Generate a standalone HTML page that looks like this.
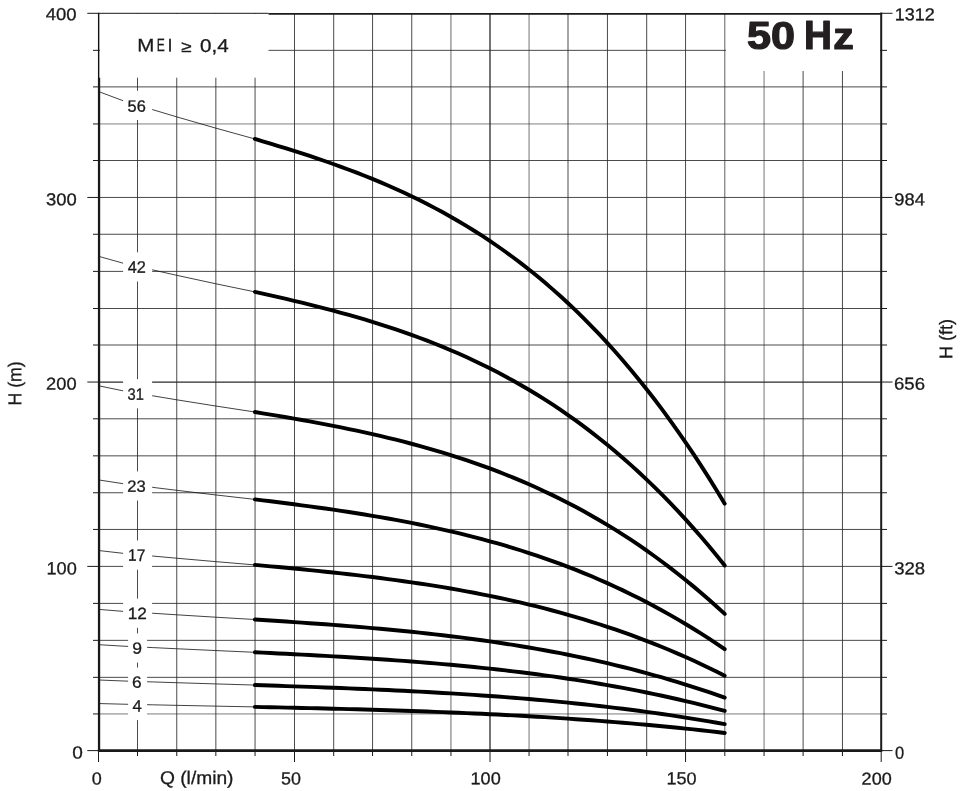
<!DOCTYPE html>
<html><head><meta charset="utf-8"><title>50 Hz</title>
<style>html,body{margin:0;padding:0;background:#fff}body{width:961px;height:791px;overflow:hidden}</style>
</head><body>
<svg width="961" height="791" viewBox="0 0 961 791" style="display:block">
<rect width="961" height="791" fill="#fff"/>
<g fill="none">
<line x1="137.5" y1="13.3" x2="137.5" y2="750.6" stroke="#2a2a2a" stroke-width="0.85"/>
<line x1="176.75" y1="13.3" x2="176.75" y2="750.6" stroke="#2a2a2a" stroke-width="0.85"/>
<line x1="215.85" y1="13.3" x2="215.85" y2="750.6" stroke="#2a2a2a" stroke-width="0.85"/>
<line x1="255.05" y1="13.3" x2="255.05" y2="750.6" stroke="#2a2a2a" stroke-width="0.85"/>
<line x1="294.5" y1="13.3" x2="294.5" y2="750.6" stroke="#2a2a2a" stroke-width="0.85"/>
<line x1="333.7" y1="13.3" x2="333.7" y2="750.6" stroke="#2a2a2a" stroke-width="0.85"/>
<line x1="372.55" y1="13.3" x2="372.55" y2="750.6" stroke="#2a2a2a" stroke-width="0.85"/>
<line x1="411.75" y1="13.3" x2="411.75" y2="750.6" stroke="#2a2a2a" stroke-width="0.85"/>
<line x1="450.95" y1="13.3" x2="450.95" y2="750.6" stroke="#2a2a2a" stroke-width="0.7"/>
<line x1="490.0" y1="13.3" x2="490.0" y2="750.6" stroke="#2a2a2a" stroke-width="1.3"/>
<line x1="529.05" y1="13.3" x2="529.05" y2="750.6" stroke="#2a2a2a" stroke-width="0.65"/>
<line x1="568.0" y1="13.3" x2="568.0" y2="750.6" stroke="#2a2a2a" stroke-width="0.85"/>
<line x1="607.45" y1="13.3" x2="607.45" y2="750.6" stroke="#2a2a2a" stroke-width="0.85"/>
<line x1="646.7" y1="13.3" x2="646.7" y2="750.6" stroke="#2a2a2a" stroke-width="0.85"/>
<line x1="685.55" y1="13.3" x2="685.55" y2="750.6" stroke="#2a2a2a" stroke-width="0.85"/>
<line x1="724.8" y1="13.3" x2="724.8" y2="750.6" stroke="#2a2a2a" stroke-width="0.75"/>
<line x1="764.05" y1="13.3" x2="764.05" y2="750.6" stroke="#2a2a2a" stroke-width="0.65"/>
<line x1="803.1" y1="13.3" x2="803.1" y2="750.6" stroke="#2a2a2a" stroke-width="0.85"/>
<line x1="842.45" y1="13.3" x2="842.45" y2="750.6" stroke="#2a2a2a" stroke-width="0.85"/>
<line x1="99.05" y1="50.35" x2="881.2" y2="50.35" stroke="#2a2a2a" stroke-width="0.85"/>
<line x1="99.05" y1="86.9" x2="881.2" y2="86.9" stroke="#2a2a2a" stroke-width="0.85"/>
<line x1="99.05" y1="123.95" x2="881.2" y2="123.95" stroke="#2a2a2a" stroke-width="0.6"/>
<line x1="99.05" y1="160.5" x2="881.2" y2="160.5" stroke="#2a2a2a" stroke-width="0.85"/>
<line x1="99.05" y1="197.45" x2="881.2" y2="197.45" stroke="#2a2a2a" stroke-width="0.85"/>
<line x1="99.05" y1="234.25" x2="881.2" y2="234.25" stroke="#2a2a2a" stroke-width="0.85"/>
<line x1="99.05" y1="271.4" x2="881.2" y2="271.4" stroke="#2a2a2a" stroke-width="0.85"/>
<line x1="99.05" y1="308.5" x2="881.2" y2="308.5" stroke="#2a2a2a" stroke-width="0.85"/>
<line x1="99.05" y1="345.0" x2="881.2" y2="345.0" stroke="#2a2a2a" stroke-width="0.85"/>
<line x1="99.05" y1="382.05" x2="881.2" y2="382.05" stroke="#2a2a2a" stroke-width="1.3"/>
<line x1="99.05" y1="418.8" x2="881.2" y2="418.8" stroke="#2a2a2a" stroke-width="0.85"/>
<line x1="99.05" y1="455.85" x2="881.2" y2="455.85" stroke="#2a2a2a" stroke-width="0.85"/>
<line x1="99.05" y1="492.75" x2="881.2" y2="492.75" stroke="#2a2a2a" stroke-width="0.85"/>
<line x1="99.05" y1="529.45" x2="881.2" y2="529.45" stroke="#2a2a2a" stroke-width="0.85"/>
<line x1="99.05" y1="566.4" x2="881.2" y2="566.4" stroke="#2a2a2a" stroke-width="0.85"/>
<line x1="99.05" y1="603.4" x2="881.2" y2="603.4" stroke="#2a2a2a" stroke-width="0.85"/>
<line x1="99.05" y1="640.35" x2="881.2" y2="640.35" stroke="#2a2a2a" stroke-width="0.85"/>
<line x1="99.05" y1="677.35" x2="881.2" y2="677.35" stroke="#2a2a2a" stroke-width="0.85"/>
<line x1="99.05" y1="713.95" x2="881.2" y2="713.95" stroke="#2a2a2a" stroke-width="0.62"/>
</g>
<rect x="100" y="14" width="168.5" height="63.7" fill="#fff"/>
<rect x="726" y="14" width="154" height="57" fill="#fff"/>
<g stroke="#111" stroke-width="0.8" fill="none">
<polyline points="99.40,91.83 122.96,100.68 152.21,109.52 176.48,116.80 215.75,128.14 254.90,138.96"/>
<polyline points="99.40,256.53 122.96,263.16 152.21,269.79 176.48,275.25 215.75,283.75 254.90,291.87"/>
<polyline points="99.40,385.93 122.96,390.82 152.21,395.72 176.48,399.75 215.75,406.02 254.90,412.01"/>
<polyline points="99.40,480.04 122.96,483.67 152.21,487.30 176.48,490.29 215.75,494.95 254.90,499.39"/>
<polyline points="99.40,550.62 122.96,553.30 152.21,555.99 176.48,558.20 215.75,561.64 254.90,564.92"/>
<polyline points="99.40,609.44 122.96,611.33 152.21,613.23 176.48,614.79 215.75,617.21 254.90,619.53"/>
<polyline points="99.40,644.73 122.96,646.15 152.21,647.57 176.48,648.74 215.75,650.56 254.90,652.30"/>
<polyline points="99.40,680.02 122.96,680.97 152.21,681.91 176.48,682.69 215.75,683.91 254.90,685.07"/>
<polyline points="99.40,703.55 122.96,704.18 152.21,704.81 176.48,705.33 215.75,706.14 254.90,706.91"/>
</g>
<rect x="123.1" y="90.80" width="29" height="29.2" fill="#fff"/>
<rect x="123.1" y="252.30" width="29" height="29.2" fill="#fff"/>
<rect x="123.1" y="379.15" width="29" height="29.2" fill="#fff"/>
<rect x="123.1" y="471.40" width="29" height="29.2" fill="#fff"/>
<rect x="123.1" y="540.50" width="29" height="29.2" fill="#fff"/>
<rect x="123.1" y="598.60" width="29" height="29.2" fill="#fff"/>
<rect x="128.1" y="633.40" width="19" height="29.2" fill="#fff"/>
<rect x="128.1" y="667.50" width="19" height="29.2" fill="#fff"/>
<rect x="128.1" y="690.90" width="19" height="29.2" fill="#fff"/>
<g stroke="#1a1a1a" fill="none">
<line x1="87.3" y1="13.3" x2="268.5" y2="13.3" stroke-width="1"/>
<line x1="268.5" y1="13.85" x2="881.2" y2="13.85" stroke-width="1.7"/>
<line x1="881.2" y1="13.3" x2="892.5" y2="13.3" stroke-width="1"/>
<line x1="98.65" y1="12.8" x2="98.65" y2="78" stroke-width="1.4" stroke="#111"/>
<line x1="99.05" y1="77.7" x2="99.05" y2="751.9" stroke-width="2.3"/>
<line x1="881.2" y1="12.600000000000001" x2="881.2" y2="751.8000000000001" stroke-width="2"/>
<line x1="97.95" y1="750.6" x2="882.1" y2="750.6" stroke-width="2.6"/>
<line x1="87.3" y1="750.6" x2="99.05" y2="750.6" stroke-width="1"/>
<line x1="881.2" y1="750.6" x2="892.5" y2="750.6" stroke-width="1"/>
<line x1="93" y1="713.95" x2="99.05" y2="713.95" stroke-width="1"/>
<line x1="881.2" y1="713.95" x2="887" y2="713.95" stroke-width="1"/>
<line x1="93" y1="677.35" x2="99.05" y2="677.35" stroke-width="1"/>
<line x1="881.2" y1="677.35" x2="887" y2="677.35" stroke-width="1"/>
<line x1="93" y1="640.35" x2="99.05" y2="640.35" stroke-width="1"/>
<line x1="881.2" y1="640.35" x2="887" y2="640.35" stroke-width="1"/>
<line x1="93" y1="603.4" x2="99.05" y2="603.4" stroke-width="1"/>
<line x1="881.2" y1="603.4" x2="887" y2="603.4" stroke-width="1"/>
<line x1="87.3" y1="566.4" x2="99.05" y2="566.4" stroke-width="1"/>
<line x1="881.2" y1="566.4" x2="892.5" y2="566.4" stroke-width="1"/>
<line x1="93" y1="529.45" x2="99.05" y2="529.45" stroke-width="1"/>
<line x1="881.2" y1="529.45" x2="887" y2="529.45" stroke-width="1"/>
<line x1="93" y1="492.75" x2="99.05" y2="492.75" stroke-width="1"/>
<line x1="881.2" y1="492.75" x2="887" y2="492.75" stroke-width="1"/>
<line x1="93" y1="455.85" x2="99.05" y2="455.85" stroke-width="1"/>
<line x1="881.2" y1="455.85" x2="887" y2="455.85" stroke-width="1"/>
<line x1="93" y1="418.8" x2="99.05" y2="418.8" stroke-width="1"/>
<line x1="881.2" y1="418.8" x2="887" y2="418.8" stroke-width="1"/>
<line x1="87.3" y1="382.05" x2="99.05" y2="382.05" stroke-width="1"/>
<line x1="881.2" y1="382.05" x2="892.5" y2="382.05" stroke-width="1"/>
<line x1="93" y1="345.0" x2="99.05" y2="345.0" stroke-width="1"/>
<line x1="881.2" y1="345.0" x2="887" y2="345.0" stroke-width="1"/>
<line x1="93" y1="308.5" x2="99.05" y2="308.5" stroke-width="1"/>
<line x1="881.2" y1="308.5" x2="887" y2="308.5" stroke-width="1"/>
<line x1="93" y1="271.4" x2="99.05" y2="271.4" stroke-width="1"/>
<line x1="881.2" y1="271.4" x2="887" y2="271.4" stroke-width="1"/>
<line x1="93" y1="234.25" x2="99.05" y2="234.25" stroke-width="1"/>
<line x1="881.2" y1="234.25" x2="887" y2="234.25" stroke-width="1"/>
<line x1="87.3" y1="197.45" x2="99.05" y2="197.45" stroke-width="1"/>
<line x1="881.2" y1="197.45" x2="892.5" y2="197.45" stroke-width="1"/>
<line x1="93" y1="160.5" x2="99.05" y2="160.5" stroke-width="1"/>
<line x1="881.2" y1="160.5" x2="887" y2="160.5" stroke-width="1"/>
<line x1="93" y1="123.95" x2="99.05" y2="123.95" stroke-width="1"/>
<line x1="881.2" y1="123.95" x2="887" y2="123.95" stroke-width="1"/>
<line x1="93" y1="86.9" x2="99.05" y2="86.9" stroke-width="1"/>
<line x1="881.2" y1="86.9" x2="887" y2="86.9" stroke-width="1"/>
<line x1="93" y1="50.35" x2="99.05" y2="50.35" stroke-width="1"/>
<line x1="881.2" y1="50.35" x2="887" y2="50.35" stroke-width="1"/>
<line x1="98.5" y1="750.6" x2="98.5" y2="762" stroke-width="1"/>
<line x1="137.5" y1="750.6" x2="137.5" y2="756" stroke-width="1"/>
<line x1="176.75" y1="750.6" x2="176.75" y2="756" stroke-width="1"/>
<line x1="215.85" y1="750.6" x2="215.85" y2="756" stroke-width="1"/>
<line x1="255.05" y1="750.6" x2="255.05" y2="756" stroke-width="1"/>
<line x1="294.5" y1="750.6" x2="294.5" y2="762" stroke-width="1"/>
<line x1="333.7" y1="750.6" x2="333.7" y2="756" stroke-width="1"/>
<line x1="372.55" y1="750.6" x2="372.55" y2="756" stroke-width="1"/>
<line x1="411.75" y1="750.6" x2="411.75" y2="756" stroke-width="1"/>
<line x1="450.95" y1="750.6" x2="450.95" y2="756" stroke-width="1"/>
<line x1="490.0" y1="750.6" x2="490.0" y2="762" stroke-width="1"/>
<line x1="529.05" y1="750.6" x2="529.05" y2="756" stroke-width="1"/>
<line x1="568.0" y1="750.6" x2="568.0" y2="756" stroke-width="1"/>
<line x1="607.45" y1="750.6" x2="607.45" y2="756" stroke-width="1"/>
<line x1="646.7" y1="750.6" x2="646.7" y2="756" stroke-width="1"/>
<line x1="685.55" y1="750.6" x2="685.55" y2="762" stroke-width="1"/>
<line x1="724.8" y1="750.6" x2="724.8" y2="756" stroke-width="1"/>
<line x1="764.05" y1="750.6" x2="764.05" y2="756" stroke-width="1"/>
<line x1="803.1" y1="750.6" x2="803.1" y2="756" stroke-width="1"/>
<line x1="842.45" y1="750.6" x2="842.45" y2="756" stroke-width="1"/>
<line x1="881.2" y1="750.6" x2="881.2" y2="762" stroke-width="1"/>
</g>
<g stroke="#000" stroke-width="3.9" fill="none" stroke-linecap="round" stroke-linejoin="round">
<polyline points="254.90,138.96 262.73,141.28 270.56,143.63 278.39,146.01 286.22,148.43 294.05,150.89 301.88,153.40 309.71,155.96 317.54,158.58 325.37,161.26 333.20,164.00 341.03,166.82 348.86,169.72 356.69,172.69 364.52,175.76 372.35,178.91 380.18,182.17 388.01,185.53 395.84,188.99 403.67,192.57 411.50,196.26 419.33,200.08 427.16,204.03 434.99,208.12 442.82,212.34 450.65,216.70 458.48,221.22 466.31,225.89 474.14,230.73 481.97,235.73 489.80,240.90 497.63,246.25 505.46,251.78 513.29,257.50 521.12,263.41 528.95,269.52 536.78,275.84 544.61,282.37 552.44,289.11 560.27,296.08 568.10,303.27 575.93,310.70 583.76,318.36 591.59,326.27 599.42,334.43 607.25,342.84 615.08,351.51 622.91,360.46 630.74,369.67 638.57,379.17 646.40,388.94 654.23,399.01 662.06,409.38 669.89,420.05 677.72,431.02 685.55,442.31 693.38,453.92 701.21,465.86 709.04,478.13 716.87,490.74 724.70,503.69"/>
<polyline points="254.90,291.87 262.73,293.61 270.56,295.37 278.39,297.16 286.22,298.97 294.05,300.82 301.88,302.70 309.71,304.62 317.54,306.58 325.37,308.59 333.20,310.65 341.03,312.77 348.86,314.94 356.69,317.17 364.52,319.47 372.35,321.84 380.18,324.28 388.01,326.79 395.84,329.39 403.67,332.08 411.50,334.85 419.33,337.71 427.16,340.67 434.99,343.74 442.82,346.90 450.65,350.18 458.48,353.57 466.31,357.07 474.14,360.70 481.97,364.45 489.80,368.32 497.63,372.34 505.46,376.48 513.29,380.77 521.12,385.21 528.95,389.79 536.78,394.53 544.61,399.43 552.44,404.48 560.27,409.71 568.10,415.10 575.93,420.67 583.76,426.42 591.59,432.35 599.42,438.47 607.25,444.78 615.08,451.29 622.91,457.99 630.74,464.90 638.57,472.02 646.40,479.36 654.23,486.91 662.06,494.68 669.89,502.69 677.72,510.92 685.55,519.38 693.38,528.09 701.21,537.05 709.04,546.25 716.87,555.70 724.70,565.42"/>
<polyline points="254.90,412.01 262.73,413.30 270.56,414.60 278.39,415.92 286.22,417.26 294.05,418.62 301.88,420.01 309.71,421.43 317.54,422.87 325.37,424.36 333.20,425.88 341.03,427.44 348.86,429.04 356.69,430.69 364.52,432.38 372.35,434.13 380.18,435.93 388.01,437.79 395.84,439.71 403.67,441.69 411.50,443.74 419.33,445.85 427.16,448.04 434.99,450.30 442.82,452.63 450.65,455.05 458.48,457.55 466.31,460.14 474.14,462.81 481.97,465.58 489.80,468.44 497.63,471.40 505.46,474.47 513.29,477.63 521.12,480.91 528.95,484.29 536.78,487.79 544.61,491.40 552.44,495.13 560.27,498.99 568.10,502.97 575.93,507.08 583.76,511.32 591.59,515.70 599.42,520.22 607.25,524.88 615.08,529.68 622.91,534.63 630.74,539.73 638.57,544.98 646.40,550.40 654.23,555.97 662.06,561.71 669.89,567.62 677.72,573.69 685.55,579.94 693.38,586.37 701.21,592.98 709.04,599.77 716.87,606.75 724.70,613.92"/>
<polyline points="254.90,499.39 262.73,500.34 270.56,501.31 278.39,502.29 286.22,503.28 294.05,504.29 301.88,505.32 309.71,506.37 317.54,507.45 325.37,508.55 333.20,509.68 341.03,510.83 348.86,512.02 356.69,513.25 364.52,514.50 372.35,515.80 380.18,517.14 388.01,518.52 395.84,519.94 403.67,521.41 411.50,522.93 419.33,524.50 427.16,526.12 434.99,527.79 442.82,529.53 450.65,531.32 458.48,533.18 466.31,535.10 474.14,537.08 481.97,539.13 489.80,541.26 497.63,543.46 505.46,545.73 513.29,548.08 521.12,550.50 528.95,553.02 536.78,555.61 544.61,558.29 552.44,561.06 560.27,563.92 568.10,566.88 575.93,569.93 583.76,573.07 591.59,576.32 599.42,579.67 607.25,583.13 615.08,586.69 622.91,590.36 630.74,594.15 638.57,598.05 646.40,602.06 654.23,606.20 662.06,610.46 669.89,614.84 677.72,619.35 685.55,623.98 693.38,628.75 701.21,633.65 709.04,638.69 716.87,643.87 724.70,649.19"/>
<polyline points="254.90,564.92 262.73,565.63 270.56,566.34 278.39,567.06 286.22,567.80 294.05,568.55 301.88,569.31 309.71,570.08 317.54,570.88 325.37,571.69 333.20,572.53 341.03,573.38 348.86,574.26 356.69,575.16 364.52,576.09 372.35,577.05 380.18,578.04 388.01,579.06 395.84,580.11 403.67,581.20 411.50,582.32 419.33,583.48 427.16,584.68 434.99,585.92 442.82,587.20 450.65,588.52 458.48,589.90 466.31,591.31 474.14,592.78 481.97,594.30 489.80,595.87 497.63,597.49 505.46,599.17 513.29,600.91 521.12,602.70 528.95,604.56 536.78,606.48 544.61,608.46 552.44,610.51 560.27,612.62 568.10,614.80 575.93,617.06 583.76,619.38 591.59,621.78 599.42,624.26 607.25,626.82 615.08,629.45 622.91,632.16 630.74,634.96 638.57,637.84 646.40,640.81 654.23,643.87 662.06,647.02 669.89,650.25 677.72,653.59 685.55,657.01 693.38,660.54 701.21,664.16 709.04,667.89 716.87,671.71 724.70,675.64"/>
<polyline points="254.90,619.53 262.73,620.03 270.56,620.54 278.39,621.05 286.22,621.56 294.05,622.09 301.88,622.63 309.71,623.18 317.54,623.74 325.37,624.31 333.20,624.90 341.03,625.50 348.86,626.12 356.69,626.76 364.52,627.42 372.35,628.10 380.18,628.79 388.01,629.51 395.84,630.25 403.67,631.02 411.50,631.81 419.33,632.63 427.16,633.48 434.99,634.35 442.82,635.26 450.65,636.19 458.48,637.16 466.31,638.16 474.14,639.20 481.97,640.27 489.80,641.38 497.63,642.52 505.46,643.71 513.29,644.94 521.12,646.20 528.95,647.51 536.78,648.87 544.61,650.26 552.44,651.71 560.27,653.20 568.10,654.74 575.93,656.33 583.76,657.98 591.59,659.67 599.42,661.42 607.25,663.22 615.08,665.08 622.91,667.00 630.74,668.97 638.57,671.01 646.40,673.10 654.23,675.26 662.06,677.48 669.89,679.77 677.72,682.12 685.55,684.54 693.38,687.03 701.21,689.58 709.04,692.21 716.87,694.91 724.70,697.69"/>
<polyline points="254.90,652.30 262.73,652.67 270.56,653.05 278.39,653.43 286.22,653.82 294.05,654.22 301.88,654.62 309.71,655.03 317.54,655.45 325.37,655.88 333.20,656.33 341.03,656.78 348.86,657.24 356.69,657.72 364.52,658.21 372.35,658.72 380.18,659.24 388.01,659.78 395.84,660.34 403.67,660.92 411.50,661.51 419.33,662.12 427.16,662.76 434.99,663.41 442.82,664.09 450.65,664.80 458.48,665.52 466.31,666.27 474.14,667.05 481.97,667.85 489.80,668.68 497.63,669.54 505.46,670.43 513.29,671.35 521.12,672.30 528.95,673.28 536.78,674.30 544.61,675.35 552.44,676.43 560.27,677.55 568.10,678.71 575.93,679.90 583.76,681.13 591.59,682.40 599.42,683.71 607.25,685.07 615.08,686.46 622.91,687.90 630.74,689.38 638.57,690.91 646.40,692.48 654.23,694.09 662.06,695.76 669.89,697.48 677.72,699.24 685.55,701.05 693.38,702.92 701.21,704.84 709.04,706.81 716.87,708.84 724.70,710.92"/>
<polyline points="254.90,685.07 262.73,685.32 270.56,685.57 278.39,685.82 286.22,686.08 294.05,686.35 301.88,686.61 309.71,686.89 317.54,687.17 325.37,687.46 333.20,687.75 341.03,688.05 348.86,688.36 356.69,688.68 364.52,689.01 372.35,689.35 380.18,689.70 388.01,690.06 395.84,690.43 403.67,690.81 411.50,691.21 419.33,691.62 427.16,692.04 434.99,692.48 442.82,692.93 450.65,693.40 458.48,693.88 466.31,694.38 474.14,694.90 481.97,695.44 489.80,695.99 497.63,696.56 505.46,697.15 513.29,697.77 521.12,698.40 528.95,699.06 536.78,699.73 544.61,700.43 552.44,701.15 560.27,701.90 568.10,702.67 575.93,703.47 583.76,704.29 591.59,705.14 599.42,706.01 607.25,706.91 615.08,707.84 622.91,708.80 630.74,709.79 638.57,710.80 646.40,711.85 654.23,712.93 662.06,714.04 669.89,715.18 677.72,716.36 685.55,717.57 693.38,718.81 701.21,720.09 709.04,721.41 716.87,722.76 724.70,724.15"/>
<polyline points="254.90,706.91 262.73,707.08 270.56,707.25 278.39,707.42 286.22,707.59 294.05,707.76 301.88,707.94 309.71,708.13 317.54,708.31 325.37,708.50 333.20,708.70 341.03,708.90 348.86,709.11 356.69,709.32 364.52,709.54 372.35,709.77 380.18,710.00 388.01,710.24 395.84,710.48 403.67,710.74 411.50,711.00 419.33,711.28 427.16,711.56 434.99,711.85 442.82,712.15 450.65,712.46 458.48,712.79 466.31,713.12 474.14,713.47 481.97,713.82 489.80,714.19 497.63,714.57 505.46,714.97 513.29,715.38 521.12,715.80 528.95,716.24 536.78,716.69 544.61,717.15 552.44,717.64 560.27,718.13 568.10,718.65 575.93,719.18 583.76,719.73 591.59,720.29 599.42,720.87 607.25,721.47 615.08,722.09 622.91,722.73 630.74,723.39 638.57,724.07 646.40,724.77 654.23,725.49 662.06,726.23 669.89,726.99 677.72,727.77 685.55,728.58 693.38,729.41 701.21,730.26 709.04,731.14 716.87,732.04 724.70,732.96"/>
</g>
<g font-family="'Liberation Sans', sans-serif" fill="#1a1a1a" stroke="#1a1a1a" stroke-width="0.3">
<text transform="translate(45.84,20.10) rotate(0.1)" font-size="17.23" textLength="30.80" lengthAdjust="spacingAndGlyphs">400</text>
<text transform="translate(46.03,205.13) rotate(0.1)" font-size="17.18" textLength="30.70" lengthAdjust="spacingAndGlyphs">300</text>
<text transform="translate(46.10,389.56) rotate(0.1)" font-size="17.05" textLength="30.45" lengthAdjust="spacingAndGlyphs">200</text>
<text transform="translate(46.51,574.34) rotate(0.1)" font-size="17.45" textLength="30.24" lengthAdjust="spacingAndGlyphs">100</text>
<text transform="translate(72.30,758.52) rotate(0.1)" font-size="17.50" textLength="10.58" lengthAdjust="spacingAndGlyphs">0</text>
<text transform="translate(894.84,20.13) rotate(0.1)" font-size="17.17" textLength="39.95" lengthAdjust="spacingAndGlyphs">1312</text>
<text transform="translate(894.31,205.14) rotate(0.1)" font-size="17.14" textLength="30.49" lengthAdjust="spacingAndGlyphs">984</text>
<text transform="translate(894.06,389.60) rotate(0.1)" font-size="17.12" textLength="30.87" lengthAdjust="spacingAndGlyphs">656</text>
<text transform="translate(894.13,574.27) rotate(0.1)" font-size="17.25" textLength="30.89" lengthAdjust="spacingAndGlyphs">328</text>
<text transform="translate(895.07,758.63) rotate(0.1)" font-size="17.55" textLength="9.17" lengthAdjust="spacingAndGlyphs">0</text>
<text transform="translate(91.63,784.42) rotate(0.1)" font-size="17.41" textLength="10.01" lengthAdjust="spacingAndGlyphs">0</text>
<text transform="translate(281.12,784.38) rotate(0.1)" font-size="17.46" textLength="19.90" lengthAdjust="spacingAndGlyphs">50</text>
<text transform="translate(470.53,784.33) rotate(0.1)" font-size="17.22" textLength="30.19" lengthAdjust="spacingAndGlyphs">100</text>
<text transform="translate(666.47,784.34) rotate(0.1)" font-size="17.37" textLength="30.11" lengthAdjust="spacingAndGlyphs">150</text>
<text transform="translate(861.62,784.38) rotate(0.1)" font-size="17.15" textLength="30.06" lengthAdjust="spacingAndGlyphs">200</text>
<text transform="translate(159.99,783.94) rotate(0.1)" font-size="18.38" textLength="73.52" lengthAdjust="spacingAndGlyphs">Q (l/min)</text>
<text transform="translate(127.55,111.65) rotate(0.1)" font-size="16.54" textLength="18.23" lengthAdjust="spacingAndGlyphs">56</text>
<text transform="translate(127.71,272.85) rotate(0.1)" font-size="16.66" textLength="18.14" lengthAdjust="spacingAndGlyphs">42</text>
<text transform="translate(127.57,399.64) rotate(0.1)" font-size="16.34" textLength="16.32" lengthAdjust="spacingAndGlyphs">31</text>
<text transform="translate(127.27,491.70) rotate(0.1)" font-size="16.27" textLength="18.40" lengthAdjust="spacingAndGlyphs">23</text>
<text transform="translate(128.03,560.87) rotate(0.1)" font-size="16.65" textLength="17.26" lengthAdjust="spacingAndGlyphs">17</text>
<text transform="translate(127.69,619.10) rotate(0.1)" font-size="16.36" textLength="19.13" lengthAdjust="spacingAndGlyphs">12</text>
<text transform="translate(132.23,653.78) rotate(0.1)" font-size="16.29" textLength="9.74" lengthAdjust="spacingAndGlyphs">9</text>
<text transform="translate(132.08,687.78) rotate(0.1)" font-size="16.34" textLength="9.69" lengthAdjust="spacingAndGlyphs">6</text>
<text transform="translate(132.44,711.38) rotate(0.1)" font-size="16.49" textLength="9.33" lengthAdjust="spacingAndGlyphs">4</text>
<text transform="translate(21.14,405.57) rotate(-89.9)" font-size="18.60" textLength="44.31" lengthAdjust="spacingAndGlyphs">H (m)</text>
<text transform="translate(952.20,359.11) rotate(-89.9)" font-size="18.30" textLength="40.08" lengthAdjust="spacingAndGlyphs">H (ft)</text>
<text transform="rotate(0.03)"><tspan x="137.33" y="51.25" font-size="17.94" textLength="17.11" lengthAdjust="spacingAndGlyphs">M</tspan><tspan x="156.70" y="51.18" font-size="17.94" textLength="8.05" lengthAdjust="spacingAndGlyphs">E</tspan><tspan x="167.49" y="51.26" font-size="17.90" textLength="5.00" lengthAdjust="spacingAndGlyphs">I</tspan> <tspan x="181.17" y="51.80" font-size="15.76" textLength="10.34" lengthAdjust="spacingAndGlyphs">≥</tspan> <tspan x="200.15" y="51.89" font-size="18.54" textLength="28.66" lengthAdjust="spacingAndGlyphs">0,4</tspan></text>
<text font-weight="bold" fill="#231f20" stroke="#231f20" stroke-width="1.2" stroke-linejoin="round"><tspan x="747.12" y="48.97" font-size="38.08" textLength="48.03" lengthAdjust="spacingAndGlyphs">50</tspan> <tspan x="804.09" y="49.03" font-size="41.15" textLength="27.94" lengthAdjust="spacingAndGlyphs">H</tspan><tspan x="833.35" y="49.05" font-size="36.93" textLength="20.48" lengthAdjust="spacingAndGlyphs">z</tspan></text>
</g>
</svg>
</body></html>
